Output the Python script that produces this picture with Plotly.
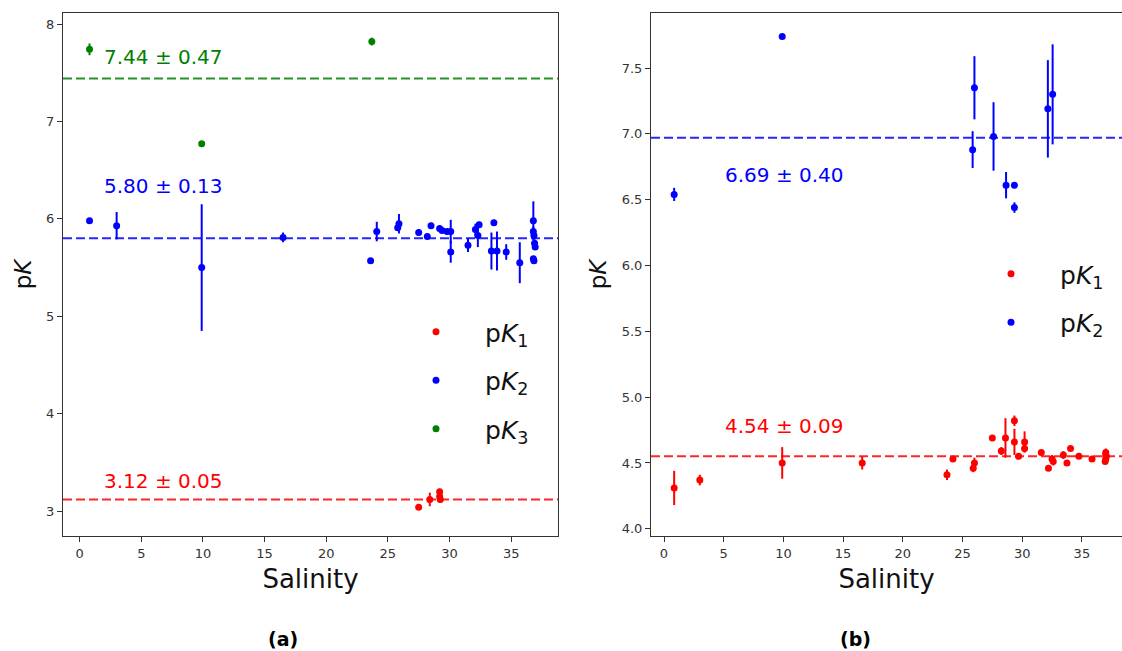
import plotly.graph_objects as go

# ---------------- data: panel (a) ----------------
a_k1_sal = [27.5, 28.4, 29.2, 29.2, 29.25]
a_k1_pk = [3.04, 3.12, 3.20, 3.15, 3.12]
a_k1_err = [0.0, 0.07, 0.03, 0.02, 0.03]

a_k2_sal = [0.8, 3.0, 9.9, 16.5, 23.6, 24.1, 25.8, 25.9, 27.5, 28.2, 28.5, 29.2, 29.4, 29.8,
            30.1, 30.1, 31.5, 32.1, 32.3, 32.4, 33.4, 33.6, 33.85, 34.6, 35.7,
            36.8, 36.8, 36.85, 36.9, 36.95, 36.8, 36.85]
a_k2_pk = [5.98, 5.93, 5.50, 5.81, 5.57, 5.87, 5.91, 5.95, 5.86, 5.82, 5.93, 5.90, 5.88, 5.87,
           5.87, 5.66, 5.73, 5.89, 5.83, 5.94, 5.67, 5.96, 5.67, 5.66, 5.55,
           5.98, 5.87, 5.83, 5.75, 5.71, 5.59, 5.57]
a_k2_err = [0.0, 0.14, 0.65, 0.05, 0.0, 0.10, 0.03, 0.10, 0.03, 0.03, 0.03, 0.02, 0.02, 0.03,
            0.12, 0.11, 0.07, 0.06, 0.12, 0.03, 0.19, 0.03, 0.20, 0.08, 0.21,
            0.20, 0.05, 0.03, 0.04, 0.03, 0.02, 0.02]

a_k3_sal = [0.8, 9.9, 23.7]
a_k3_pk = [7.74, 6.77, 7.82]
a_k3_err = [0.06, 0.0, 0.04]

a_means = [3.12, 5.80, 7.44]
a_labels = ["3.12 ± 0.05", "5.80 ± 0.13", "7.44 ± 0.47"]

# ---------------- data: panel (b) ----------------
b_k1_sal = [0.85, 3.0, 9.9, 16.6, 23.7, 24.2, 25.9, 26.0, 27.5, 28.25, 28.6, 29.35, 29.35, 29.7,
            30.2, 30.2, 31.6, 32.2, 32.5, 32.6, 33.45, 33.75, 34.05, 34.75, 35.85,
            37.0, 37.0, 37.05, 37.0, 36.95]
b_k1_pk = [4.31, 4.37, 4.50, 4.50, 4.41, 4.53, 4.46, 4.50, 4.69, 4.59, 4.69, 4.82, 4.66, 4.55,
           4.66, 4.61, 4.58, 4.46, 4.53, 4.51, 4.56, 4.50, 4.61, 4.55, 4.53,
           4.58, 4.56, 4.55, 4.53, 4.51]
b_k1_err = [0.13, 0.04, 0.12, 0.05, 0.04, 0.0, 0.03, 0.04, 0.0, 0.03, 0.15, 0.04, 0.10, 0.0,
            0.08, 0.03, 0.02, 0.02, 0.03, 0.03, 0.03, 0.02, 0.0, 0.0, 0.0,
            0.03, 0.02, 0.02, 0.02, 0.02]

b_k2_sal = [0.85, 9.9, 26.0, 25.85, 27.6, 28.65, 29.35, 29.35, 32.15, 32.55]
b_k2_pk = [6.54, 7.74, 7.35, 6.88, 6.98, 6.61, 6.61, 6.44, 7.19, 7.30]
b_k2_err = [0.05, 0.0, 0.24, 0.14, 0.26, 0.10, 0.0, 0.04, 0.37, 0.38]

b_means = [4.55, 6.97]
b_labels = ["4.54 ± 0.09", "6.69 ± 0.40"]

series_names = ["p<i>K</i><sub>1</sub>", "p<i>K</i><sub>2</sub>", "p<i>K</i><sub>3</sub>"]
colors = ["#ff0000", "#0000ff", "#008000"]
line_colors = ["rgba(255,0,0,0.85)", "rgba(0,0,255,0.85)", "rgba(0,128,0,0.85)"]

FONT = "DejaVu Sans"
W, H = 1122, 651

fig = go.Figure()


def add_series(sal, pk, err, idx, xa, ya, legend, group):
    fig.add_trace(go.Scatter(
        x=sal, y=pk, mode="markers", name=series_names[idx],
        xaxis=xa, yaxis=ya, legend=legend, legendgroup=group,
        marker=dict(color=colors[idx], size=7, line=dict(width=0)),
        error_y=dict(type="data", array=err, visible=True, color=colors[idx],
                     thickness=2, width=0),
    ))


add_series(a_k1_sal, a_k1_pk, a_k1_err, 0, "x", "y", "legend", "a1")
add_series(a_k2_sal, a_k2_pk, a_k2_err, 1, "x", "y", "legend", "a2")
add_series(a_k3_sal, a_k3_pk, a_k3_err, 2, "x", "y", "legend", "a3")
add_series(b_k1_sal, b_k1_pk, b_k1_err, 0, "x2", "y2", "legend2", "b1")
add_series(b_k2_sal, b_k2_pk, b_k2_err, 1, "x2", "y2", "legend2", "b2")

shapes = []
annotations = []
label_pos_a = [3.31, 6.34, 7.66]
for i, (m, lab) in enumerate(zip(a_means, a_labels)):
    shapes.append(dict(type="line", xref="x domain", yref="y", x0=0, x1=1, y0=m, y1=m,
                       line=dict(color=line_colors[i], width=2, dash="9px,4px")))
    annotations.append(dict(x=1.8, y=label_pos_a[i], xref="x", yref="y", text=lab,
                            showarrow=False, xanchor="left", yanchor="middle",
                            font=dict(family=FONT, size=20, color=colors[i])))
label_pos_b = [4.78, 6.69]
for i, (m, lab) in enumerate(zip(b_means, b_labels)):
    shapes.append(dict(type="line", xref="x2 domain", yref="y2", x0=0, x1=1, y0=m, y1=m,
                       line=dict(color=line_colors[i], width=2, dash="9px,4px")))
    annotations.append(dict(x=4.9, y=label_pos_b[i], xref="x2", yref="y2", text=lab,
                            showarrow=False, xanchor="left", yanchor="middle",
                            font=dict(family=FONT, size=20, color=colors[i])))

annotations.append(dict(x=283 / W, y=1 - 639 / H, xref="paper", yref="paper", text="<b>(a)</b>",
                        showarrow=False, xanchor="center", yanchor="middle",
                        font=dict(family=FONT, size=19, color="#000")))
annotations.append(dict(x=855 / W, y=1 - 639 / H, xref="paper", yref="paper", text="<b>(b)</b>",
                        showarrow=False, xanchor="center", yanchor="middle",
                        font=dict(family=FONT, size=19, color="#000")))

ydom = [1 - 536 / H, 1 - 13 / H]
axis_common = dict(showline=True, linecolor="#333", linewidth=1, mirror=True,
                   ticks="outside", ticklen=5, tickcolor="#333", tickwidth=1,
                   showgrid=False, zeroline=False,
                   tickfont=dict(family=FONT, size=13, color="#333"))

tick_x = [0, 5, 10, 15, 20, 25, 30, 35]
xtitle = dict(text="Salinity", font=dict(family=FONT, size=26, color="#111"), standoff=10)
ytitle = dict(text="p<i>K</i>", font=dict(family=FONT, size=23, color="#111"), standoff=8)

fig.update_layout(
    width=W, height=H, margin=dict(l=0, r=0, t=0, b=0),
    paper_bgcolor="white", plot_bgcolor="white",
    font=dict(family=FONT, color="#000"),
    showlegend=True,
    xaxis=dict(domain=[63 / W, 558 / W], range=[-1.35, 38.8], tickvals=tick_x, anchor="y",
               title=xtitle, **axis_common),
    yaxis=dict(domain=ydom, range=[2.745, 8.113], tickvals=[3, 4, 5, 6, 7, 8], anchor="x",
               title=ytitle, **axis_common),
    xaxis2=dict(domain=[651 / W, 1.0], range=[-1.09, 38.36], tickvals=tick_x, anchor="y2",
                title=xtitle, **axis_common),
    yaxis2=dict(domain=ydom, range=[3.945, 7.918], tickvals=[4.0, 4.5, 5.0, 5.5, 6.0, 6.5, 7.0, 7.5],
                tickformat=".1f", anchor="x2", title=ytitle, **axis_common),
    legend=dict(x=387 / W, y=1 - 309 / H, xanchor="left", yanchor="top",
                bgcolor="rgba(0,0,0,0)", tracegroupgap=13, itemwidth=88,
                font=dict(family=FONT, size=25, color="#111")),
    legend2=dict(x=962 / W, y=1 - 251 / H, xanchor="left", yanchor="top",
                 bgcolor="rgba(0,0,0,0)", tracegroupgap=13, itemwidth=88,
                 font=dict(family=FONT, size=25, color="#111")),
    shapes=shapes, annotations=annotations,
)

fig.write_html("out.html")
